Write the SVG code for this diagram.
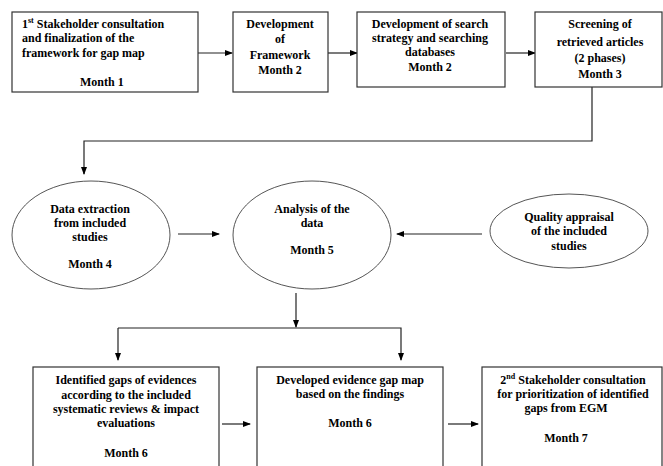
<svg xmlns="http://www.w3.org/2000/svg" width="663" height="466" viewBox="0 0 663 466">
<style>
.box{fill:#fff;stroke:#333;stroke-width:1.2}
.ell{fill:#fff;stroke:#555;stroke-width:1}
.ln{fill:none;stroke:#222;stroke-width:1.2}
.c{text-anchor:middle}
.sup{font-size:8px}
</style>
<defs>
<marker id="ah" markerWidth="8" markerHeight="6" refX="7" refY="3" orient="auto" markerUnits="userSpaceOnUse">
<path d="M0,0 L8,3 L0,6 Z" fill="#000"/>
</marker>
</defs>
<rect width="663" height="466" fill="#fff"/>
<g id="connectors">
<line class="ln" x1="198" y1="53" x2="232" y2="53" marker-end="url(#ah)"/>
<line class="ln" x1="328" y1="53" x2="357" y2="53" marker-end="url(#ah)"/>
<line class="ln" x1="506" y1="53" x2="535" y2="53" marker-end="url(#ah)"/>
<polyline class="ln" points="592,87 592,141 84,141 84,174" marker-end="url(#ah)"/>
<line class="ln" x1="178" y1="234" x2="219" y2="234" marker-end="url(#ah)"/>
<line class="ln" x1="482" y1="234" x2="397" y2="234" marker-end="url(#ah)"/>
<line class="ln" x1="296" y1="293" x2="296" y2="327" marker-end="url(#ah)"/>
<polyline class="ln" points="118,328 401,328 401,360" marker-end="url(#ah)"/>
<line class="ln" x1="118" y1="328" x2="118" y2="360" marker-end="url(#ah)"/>
<line class="ln" x1="222" y1="424" x2="250" y2="424" marker-end="url(#ah)"/>
<line class="ln" x1="448" y1="424" x2="478" y2="424" marker-end="url(#ah)"/>
</g>
<g font-family="'Liberation Serif', 'Times New Roman', serif" font-weight="bold" font-size="12" fill="#000">
<g id="n1">
<rect class="box" x="12" y="12" width="186" height="80"/>
<text x="22" y="28">1<tspan class="sup" dy="-5">st</tspan><tspan dy="5"> Stakeholder consultation</tspan></text>
<text x="22" y="42">and finalization of the</text>
<text x="22" y="57">framework for gap map</text>
<text x="80" y="86">Month 1</text>
</g>
<g id="n2">
<rect class="box" x="233" y="12" width="95" height="80"/>
<text class="c" x="280" y="28">Development</text>
<text class="c" x="280" y="43">of</text>
<text class="c" x="280" y="59">Framework</text>
<text class="c" x="280" y="74">Month 2</text>
</g>
<g id="n3">
<rect class="box" x="357" y="12" width="148" height="75"/>
<text class="c" x="430" y="28">Development of search</text>
<text class="c" x="430" y="42">strategy and searching</text>
<text class="c" x="430" y="56">databases</text>
<text class="c" x="430" y="71">Month 2</text>
</g>
<g id="n4">
<rect class="box" x="535" y="12" width="127" height="75"/>
<text class="c" x="600" y="28">Screening of</text>
<text class="c" x="600" y="46">retrieved articles</text>
<text class="c" x="600" y="62">(2 phases)</text>
<text class="c" x="600" y="78">Month 3</text>
</g>
<g id="n5">
<ellipse class="ell" cx="91" cy="235" rx="79" ry="54"/>
<text class="c" x="90" y="213">Data extraction</text>
<text class="c" x="90" y="227">from included</text>
<text class="c" x="90" y="241">studies</text>
<text class="c" x="90" y="268">Month 4</text>
</g>
<g id="n6">
<ellipse class="ell" cx="312" cy="235" rx="79" ry="54"/>
<text class="c" x="312" y="213">Analysis of the</text>
<text class="c" x="312" y="227">data</text>
<text class="c" x="312" y="254">Month 5</text>
</g>
<g id="n7">
<ellipse class="ell" cx="569" cy="231" rx="79" ry="37"/>
<text class="c" x="569" y="221">Quality appraisal</text>
<text class="c" x="569" y="235">of the included</text>
<text class="c" x="569" y="250">studies</text>
</g>
<g id="n8">
<rect class="box" x="33" y="367" width="186" height="105"/>
<text class="c" x="126" y="384">Identified gaps of evidences</text>
<text class="c" x="126" y="399">according to the included</text>
<text class="c" x="126" y="413">systematic reviews &amp; impact</text>
<text class="c" x="126" y="427">evaluations</text>
<text class="c" x="126" y="457">Month 6</text>
</g>
<g id="n9">
<rect class="box" x="257" y="367" width="186" height="105"/>
<text class="c" x="350" y="384">Developed evidence gap map</text>
<text class="c" x="350" y="398">based on the findings</text>
<text class="c" x="350" y="427">Month 6</text>
</g>
<g id="n10">
<rect class="box" x="482" y="367" width="180" height="105"/>
<text class="c" x="573" y="384">2<tspan class="sup" dy="-5">nd</tspan><tspan dy="5"> Stakeholder consultation</tspan></text>
<text class="c" x="573" y="398">for prioritization of identified</text>
<text class="c" x="566" y="412">gaps from EGM</text>
<text class="c" x="566" y="442">Month 7</text>
</g>
</g>
</svg>
